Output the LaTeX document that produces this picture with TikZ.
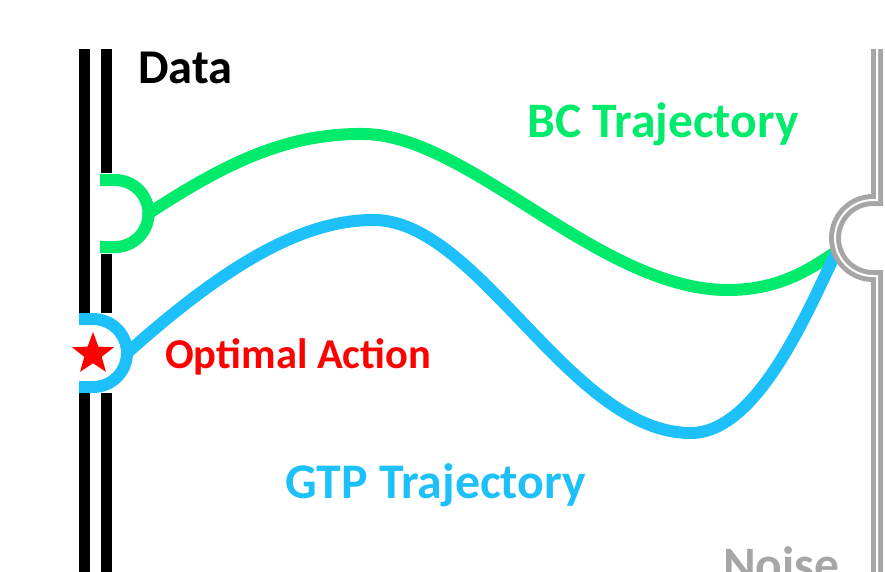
\documentclass[tikz,border=0pt]{standalone}
\usepackage{fontspec}
\setmainfont{Carlito}
\usetikzlibrary{shapes.geometric}
\definecolor{bcgreen}{RGB}{0,234,108}
\definecolor{gtpblue}{RGB}{30,192,250}
\definecolor{noisegray}{RGB}{166,166,166}
\begin{document}
\begin{tikzpicture}[x=1pt, y=-1pt,
    databar/.style={line width=11pt, black},
    traj/.style={line width=12pt, line cap=round},
    label/.style={anchor=base west, inner sep=0pt, font=\bfseries}]
    \useasboundingbox (0,0) rectangle (885,571);

    % 数据
    \draw[databar] (84,49) -- (84,313);
    \draw[databar] (84,393) -- (84,575);
    \draw[databar] (106,49) -- (106,173);
    \draw[databar] (106,254) -- (106,313);
    \draw[databar] (106,393) -- (106,575);
    \node[label, font=\bfseries\fontsize{48.5}{50}\selectfont] (data) at (138,83) {Data};

    % 起点
    \draw[line width=12pt, bcgreen] (100,180) -- (115,180) arc (-90:90:33.5) -- (100,247);
    \coordinate (bcstart) at (148.5,213.5);
    \draw[line width=12pt, gtpblue] (79,319) -- (93,319) arc (-90:90:34) -- (79,387);
    \coordinate (gtpstart) at (127,353);
    \node[star, star points=5, star point ratio=2.4, fill=red, inner sep=0pt,
        minimum size=44pt] (opt) at (93,354) {};

    % 噪声
    \coordinate (noise) at (837,251);

    % 轨迹
    \draw[traj, bcgreen] (bcstart) .. controls (230,160) and (290,133) .. (365,134)
        .. controls (470,136) and (600,290) .. (728,290)
        .. controls (780,290) and (812,268) .. (noise);
    \draw[traj, gtpblue] (gtpstart) .. controls (220,270) and (300,219) .. (375,220)
        .. controls (480,222) and (570,432) .. (690,433)
        .. controls (760,434) and (812,300) .. (noise);

    % 噪声端
    \draw[line width=5pt, noisegray, double=white, double distance=2pt]
        (877,49) -- (877,200) -- (873,200) arc (270:90:38) -- (877,276) -- (877,575);

    % 文字
    \node[label, bcgreen, font=\bfseries\fontsize{49.6}{52}\selectfont] (bc) at (527,137) {BC Trajectory};
    \node[label, red, font=\bfseries\fontsize{42.5}{44}\selectfont] (optlabel) at (165,368) {Optimal Action};
    \node[label, gtpblue, font=\bfseries\fontsize{49.8}{52}\selectfont] (gtp) at (285,498) {GTP Trajectory};
    \node[label, noisegray, font=\bfseries\fontsize{49.6}{52}\selectfont] (noiselabel) at (723,581) {Noise};
\end{tikzpicture}
\end{document}
